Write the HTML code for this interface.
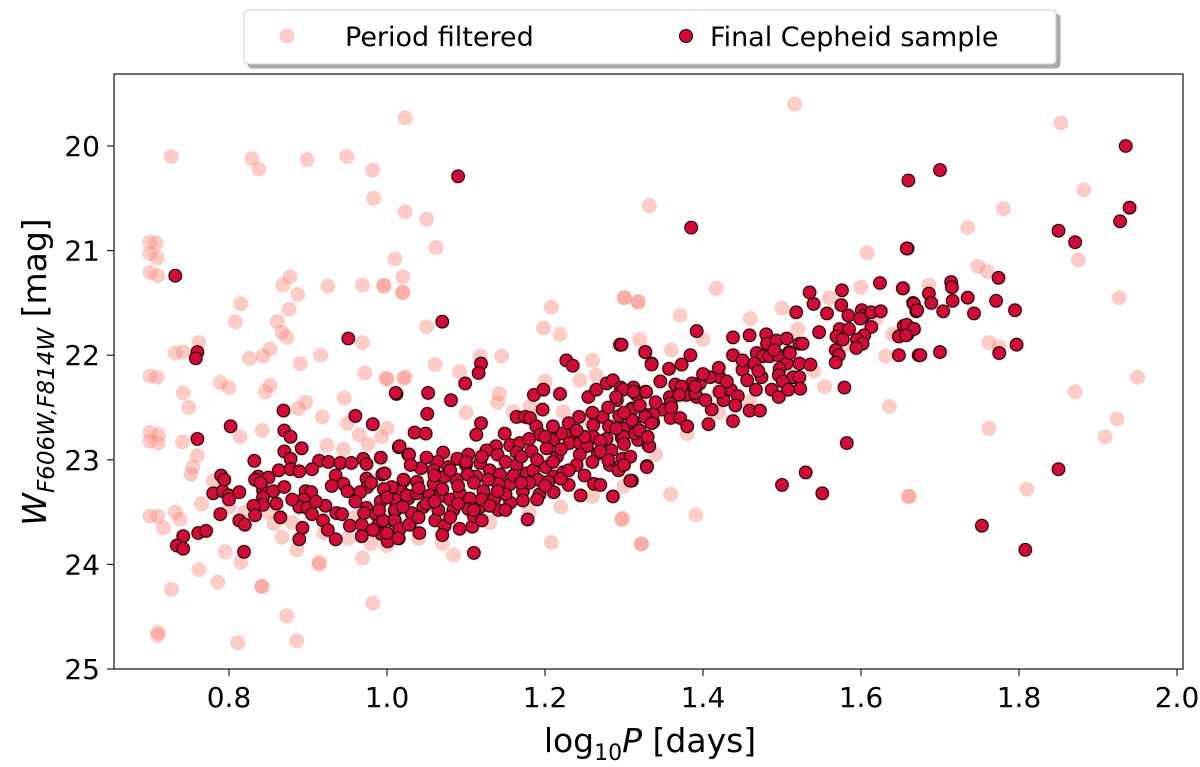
<!DOCTYPE html>
<html><head><meta charset="utf-8"><style>
html,body{margin:0;padding:0;background:#fff;}
svg{display:block;font-family:"DejaVu Sans","Liberation Sans",sans-serif;}
</style></head><body>
<svg id="chart" width="1200" height="767" viewBox="0 0 1200 767">
  <defs><filter id="sh" x="-5%" y="-20%" width="110%" height="150%"><feDropShadow dx="4" dy="4" stdDeviation="0" flood-color="#aaa"/></filter></defs>
  <g id="pts-pink"></g>
  <g id="pts-red"></g>
  <rect x="114" y="74" width="1069" height="595" fill="none" stroke="#222" stroke-width="1.3"/>
  <g id="xticks"></g>
  <g id="yticks"></g>
  <text x="650" y="752" font-size="33" text-anchor="middle">log<tspan font-size="22" dy="8">10</tspan><tspan dy="-8" font-style="italic">P</tspan> [days]</text>
  <text transform="translate(46,372) rotate(-90)" font-size="33" text-anchor="middle"><tspan font-style="italic">W</tspan><tspan font-size="23" dy="8" font-style="italic">F606W,F814W</tspan><tspan dy="-8"> [mag]</tspan></text>
  <g>
    <rect x="244" y="10" width="812" height="54" rx="4" fill="#fff" stroke="#ccc" filter="url(#sh)"/>
    <circle cx="287" cy="36" r="7.5" fill="#fa8072" fill-opacity="0.4"/>
    <text x="345" y="46" font-size="27">Period filtered</text>
    <circle cx="686" cy="36" r="6.5" fill="#d20a37" stroke="#000" stroke-width="1"/>
    <text x="710" y="46" font-size="27">Final Cepheid sample</text>
  </g>
</svg>
<script>
const xTicks = [0.8,1.0,1.2,1.4,1.6,1.8,2.0];
const xTickLabels = ["0.8","1.0","1.2","1.4","1.6","1.8","2.0"];
const yTicks = [20,21,22,23,24,25];
const yTickLabels = ["20","21","22","23","24","25"];
const pinkOnly = [
[0.70,20.92],[0.70,21.03],[0.70,21.21],[0.70,22.2],[0.70,22.74],[0.70,22.82],[0.70,23.54],[0.71,24.65],[0.71,24.68],
[0.727,20.10],[0.829,20.12],[0.838,20.22],[0.899,20.13],[0.949,20.10],[0.982,20.23],[0.983,20.50],[1.023,20.63],
[0.708,20.93],[0.709,21.07],[0.710,21.24],[1.010,21.08],[1.020,21.25],[1.020,21.40],[0.877,21.25],[0.868,21.33],[0.887,21.42],[0.925,21.34],[0.969,21.33],[0.996,21.34],
[0.815,21.51],[0.876,21.56],[0.808,21.68],[0.861,21.68],[0.867,21.78],[0.873,21.83],[0.762,21.88],[0.732,21.98],[0.742,21.97],[0.826,22.03],[0.843,22.01],[0.852,21.94],[0.916,22.00],[0.890,22.08],[0.969,21.88],
[0.709,22.21],[0.789,22.26],[0.800,22.31],[0.852,22.29],[0.846,22.35],[0.972,22.17],[1.000,22.23],[1.021,22.22],
[0.742,22.36],[0.749,22.50],[0.888,22.51],[0.897,22.45],[0.946,22.41],[0.918,22.59],[0.950,22.65],
[0.711,22.76],[0.710,22.84],[0.741,22.83],[0.814,22.78],[0.842,22.72],[0.760,22.96],[0.754,23.07],[0.752,23.14],
[0.924,22.86],[0.945,22.90],[0.965,22.76],[0.976,22.85],[0.993,22.78],[1.000,22.70],
[0.765,23.42],[0.732,23.50],[0.710,23.54],[0.717,23.65],[0.738,23.57],[0.857,23.61],[0.867,23.74],[0.795,23.88],[0.815,23.98],[0.886,23.86],[0.914,23.98],[0.969,23.94],[0.762,24.05],[0.786,24.17],[0.841,24.21],[0.727,24.24],
[0.811,24.75],[0.842,24.21],[0.873,24.49],[0.886,24.73],[0.982,24.37],[0.914,24.0],
[1.208,21.54],[1.198,21.74],[1.219,21.80],[1.300,21.45],[1.318,21.49],[1.061,22.09],[1.145,22.01],[1.142,22.37],[1.297,23.57],[1.208,23.79],[1.322,23.81],[1.084,23.91],[0.996,21.33],[1.020,21.40],[1.050,21.73],[0.999,22.22],[1.023,22.21],[1.092,22.16],[1.118,22.01],[1.223,22.54],[1.244,22.24],[1.265,22.19],[1.160,22.54],[1.181,22.49],
[1.332,20.57],[1.608,21.02],[1.417,21.36],[1.301,21.45],[1.318,21.49],[1.371,21.62],[1.631,22.01],[1.554,22.30],[1.636,22.49],[1.661,23.35],[1.359,23.33],[1.391,23.53],[1.322,23.80],[1.298,23.56],
[1.023,19.73],[1.516,19.60],[1.062,20.97],[1.05,20.70],
[1.853,19.78],[1.882,20.42],[1.78,20.6],[1.735,20.78],[1.875,21.09],[1.748,21.15],[1.76,21.2],[1.686,21.33],[1.927,21.45],[1.762,21.88],[1.775,21.92],[1.95,22.21],[1.871,22.35],[1.924,22.61],[1.909,22.78],[1.762,22.70],[1.81,23.28],[1.66,23.35],
[1.12,22.95],[1.15,23.2],[1.08,23.0],[1.25,22.6],[1.32,22.45],[1.45,22.1],[1.52,21.75],[1.42,22.35],
[0.96,23.55],[0.98,23.80],[1.00,23.82],[1.04,23.75],[1.07,23.80],[0.95,23.75],[0.92,23.7],[0.88,23.6],[0.85,23.5],[0.82,23.5],[0.80,23.45],[0.78,23.2],
[1.13,23.6],[1.18,23.5],[1.22,23.45],[1.26,23.35],[1.30,23.25],[1.34,22.95],[1.38,22.75],[1.42,22.55],[1.46,22.45],[1.50,22.35],[1.54,22.15],[1.58,21.9],[1.62,21.65],[1.64,21.8],
[1.10,22.55],[1.14,22.45],[1.20,22.25],[1.26,22.05],[1.32,21.85],[1.36,21.95],[1.40,21.85],[1.46,21.65],[1.50,21.55],[1.56,21.45],[1.60,21.35]
];
const redPts = [
[0.732,21.24],[0.760,21.97],[0.758,22.03],[0.951,21.84],[1.012,22.37],[0.869,22.53],[0.960,22.58],[0.982,22.66],[0.802,22.68],[0.760,22.80],
[0.870,22.72],[0.878,22.78],[0.892,22.89],[0.870,22.92],[0.878,22.99],[1.015,22.88],[1.027,22.95],
[0.832,23.01],[0.914,23.01],[0.926,23.02],[0.941,23.03],[0.955,23.03],[0.970,22.99],[0.974,23.04],[0.992,22.98],
[0.863,23.10],[0.878,23.09],[0.889,23.11],[0.905,23.09],[0.790,23.15],[0.794,23.19],[0.837,23.16],[0.850,23.17],[0.833,23.19],
[0.935,23.15],[0.945,23.23],[0.974,23.18],[0.994,23.14],[0.975,23.26],[1.021,23.20],
[0.780,23.32],[0.792,23.30],[0.800,23.34],[0.813,23.31],[0.800,23.38],[0.843,23.29],[0.856,23.30],[0.870,23.26],[0.843,23.36],[0.843,23.43],
[0.897,23.30],[0.904,23.31],[0.894,23.38],[0.889,23.45],[0.899,23.46],[0.905,23.52],[0.922,23.44],
[0.966,23.31],[0.997,23.29],[1.010,23.39],[0.992,23.40],[0.974,23.46],[0.971,23.51],[0.986,23.52],[1.010,23.49],[1.018,23.30],[1.027,23.37],
[0.831,23.44],[0.833,23.53],[0.789,23.52],[0.813,23.58],[0.820,23.62],[0.865,23.55],
[0.919,23.58],[0.925,23.67],[0.936,23.51],[0.943,23.52],[0.953,23.63],[0.968,23.62],[0.968,23.73],[0.989,23.62],[0.993,23.71],[1.001,23.78],[1.015,23.75],[1.016,23.66],[1.008,23.58],[1.029,23.62],[0.982,23.67],
[0.893,23.65],[0.889,23.76],[0.935,23.76],[0.742,23.73],[0.734,23.82],[0.742,23.85],[0.761,23.70],[0.771,23.68],[0.819,23.88],
[1.070,21.68],[1.119,22.08],[1.116,22.17],[1.099,22.27],[1.011,22.36],[1.052,22.36],[1.081,22.43],[1.051,22.56],[1.119,22.65],[1.113,22.76],[1.035,22.74],[1.049,22.75],[1.149,22.75],
[1.295,21.90],[1.327,21.97],[1.335,22.08],[1.227,22.05],[1.235,22.10],[1.186,22.38],[1.198,22.33],[1.219,22.37],[1.197,22.52],
[1.255,22.40],[1.265,22.33],[1.278,22.27],[1.286,22.24],[1.296,22.31],[1.312,22.31],[1.316,22.38],[1.327,22.35],[1.291,22.43],[1.310,22.51],[1.294,22.58],[1.327,22.57],[1.337,22.64],
[1.164,22.59],[1.175,22.59],[1.181,22.60],[1.189,22.68],[1.194,22.76],[1.211,22.81],[1.222,22.75],[1.235,22.74],[1.243,22.59],[1.261,22.67],[1.273,22.59],[1.281,22.68],[1.301,22.70],[1.314,22.68],[1.261,22.78],[1.278,22.80],[1.297,22.79],[1.318,22.81],[1.331,22.86],
[1.156,22.86],[1.168,22.84],[1.164,22.93],[1.183,22.92],[1.202,22.89],[1.215,22.97],[1.231,22.84],[1.244,22.84],[1.253,22.87],[1.244,22.95],[1.267,22.94],[1.284,22.91],[1.298,22.99],[1.282,23.05],[1.293,23.10],[1.329,23.06],[1.310,23.20],[1.286,23.35],[1.245,23.34],[1.262,23.23],[1.270,23.24],
[1.138,22.87],[1.126,22.91],[1.103,22.95],[1.071,22.93],[1.100,23.05],[1.089,22.99],[1.064,23.02],[1.028,22.95],[1.016,22.87],[1.043,23.08],[1.059,23.10],[1.078,23.07],
[1.118,23.03],[1.130,23.10],[1.143,23.14],[1.164,23.05],[1.177,23.13],[1.185,23.10],[1.201,23.07],[1.211,23.16],[1.223,23.12],[1.191,23.19],[1.204,23.21],[1.230,23.24],[1.211,23.31],[1.193,23.33],[1.172,23.30],[1.156,23.23],[1.141,23.23],[1.128,23.19],[1.113,23.16],[1.102,23.14],[1.088,23.19],[1.073,23.16],[1.059,23.23],[1.038,23.21],
[1.021,23.19],[1.006,23.26],[0.997,23.13],[0.996,23.28],[1.010,23.38],[1.025,23.34],[1.038,23.32],[1.054,23.34],[1.067,23.35],[1.080,23.38],[1.092,23.32],[1.105,23.37],[1.122,23.30],[1.136,23.37],[1.118,23.45],[1.103,23.47],[1.084,23.48],[1.065,23.48],[1.046,23.45],[1.031,23.51],[1.010,23.48],[0.995,23.58],[1.010,23.58],[1.016,23.66],[1.000,23.70],[1.014,23.75],[1.028,23.62],[1.041,23.70],[1.061,23.58],[1.073,23.63],[1.070,23.72],[1.092,23.66],[1.108,23.64],[1.110,23.54],[1.141,23.48],[1.156,23.41],[1.172,23.39],[1.178,23.57],[1.110,23.89],
[1.385,20.78],[1.659,20.98],[1.624,21.31],[1.653,21.36],[1.535,21.40],[1.576,21.38],[1.540,21.51],[1.575,21.52],[1.518,21.59],[1.557,21.60],[1.584,21.62],[1.601,21.57],[1.604,21.62],[1.613,21.59],[1.625,21.58],[1.599,21.65],[1.666,21.50],[1.670,21.58],[1.654,21.72],[1.648,21.82],[1.659,21.80],[1.667,21.75],[1.648,22.00],[1.673,22.00],
[1.547,21.78],[1.573,21.75],[1.585,21.75],[1.569,21.82],[1.577,21.85],[1.613,21.73],[1.604,21.81],[1.595,21.85],[1.602,21.89],[1.594,21.93],[1.568,21.95],[1.572,22.00],[1.568,22.07],[1.579,22.31],[1.582,22.84],[1.530,23.12],[1.500,23.24],[1.551,23.32],
[1.392,21.77],[1.438,21.83],[1.459,21.81],[1.480,21.80],[1.481,21.89],[1.493,21.86],[1.506,21.84],[1.522,21.89],[1.526,21.89],[1.438,22.00],[1.468,21.98],[1.476,22.01],[1.484,22.01],[1.495,22.00],[1.509,21.97],[1.506,22.08],[1.522,22.08],[1.536,22.09],[1.465,22.08],[1.450,22.14],[1.497,22.13],[1.496,22.19],[1.514,22.21],[1.522,22.21],[1.501,22.25],[1.474,22.21],[1.456,22.24],[1.487,22.33],[1.508,22.33],[1.523,22.32],[1.496,22.40],[1.467,22.33],[1.421,22.21],[1.409,22.21],[1.396,22.27],[1.435,22.33],[1.444,22.39],[1.426,22.43],[1.441,22.48],[1.459,22.53],[1.472,22.53],[1.411,22.52],[1.407,22.66],[1.438,22.63],[1.386,22.27],[1.373,22.09],[1.384,22.00],[1.335,22.09],[1.327,21.97],[1.357,22.13],[1.346,22.25],[1.365,22.28],[1.379,22.38],[1.392,22.40],[1.373,22.30],[1.358,22.40],[1.348,22.52],[1.359,22.46],[1.337,22.56],[1.327,22.59],[1.359,22.60],[1.371,22.60],[1.380,22.68],[1.335,22.65],[1.314,22.75],[1.299,22.78],[1.332,22.87],[1.308,22.97],[1.329,23.07],[1.308,23.20],[1.299,22.33],[1.312,22.35],[1.328,22.35],[1.310,22.52],[1.297,21.90],[1.390,22.36],[1.403,22.43],[1.421,22.35],
[1.09,20.29],
[1.935,20.0],[1.70,20.23],[1.66,20.33],[1.94,20.59],[1.928,20.72],[1.85,20.81],[1.871,20.92],[1.658,20.98],[1.774,21.26],[1.714,21.30],[1.715,21.35],[1.686,21.41],[1.653,21.36],[1.667,21.51],[1.671,21.57],[1.689,21.50],[1.704,21.58],[1.716,21.48],[1.735,21.45],[1.771,21.48],[1.743,21.60],[1.795,21.57],[1.658,21.71],[1.667,21.75],[1.657,21.81],[1.70,21.97],[1.675,22.0],[1.775,21.98],[1.797,21.90],[1.85,23.09],[1.753,23.63],[1.808,23.86]
];
const redExtra = [
[1.04,23.27],[1.05,23.42],[1.07,23.28],[1.09,23.25],[1.11,23.22],[1.12,23.38],[1.13,23.44],[1.15,23.33],[1.16,23.15],[1.18,23.22],[1.19,23.00],[1.21,23.02],[1.22,22.90],[1.24,23.05],[1.25,22.78],[1.27,22.82],[1.28,23.00],[1.30,22.85],[1.31,22.62],[1.32,22.48],
[1.03,23.05],[1.05,22.98],[1.06,23.15],[1.08,23.10],[1.10,23.02],[1.12,22.97],[1.14,22.95],[1.15,23.02],[1.17,22.97],[1.18,22.80],[1.20,22.78],[1.21,22.68],[1.23,22.65],[1.24,22.72],[1.26,22.55],[1.28,22.50],[1.29,22.40],[1.30,22.55],[1.32,22.72],[1.34,22.45],
[1.02,23.45],[1.04,23.55],[1.06,23.40],[1.08,23.55],[1.09,23.42],[1.11,23.48],[1.12,23.58],[1.14,23.30],[1.15,23.48],[1.17,23.22],[1.19,23.38],[1.20,23.25],[1.22,23.18],[1.23,23.10],[1.25,23.15],[1.26,23.02],[1.27,22.92],[1.29,22.70],[1.30,23.05],[1.33,22.78],
[0.99,23.48],[1.00,23.36],[0.98,23.22],[0.96,23.40],[0.95,23.30],[0.93,23.25],[0.91,23.40],[0.88,23.38],[0.86,23.42],[0.84,23.22],[1.36,22.50],[1.37,22.38],[1.39,22.30],[1.40,22.18],[1.42,22.12],[1.43,22.25],[1.45,22.05],[1.47,22.15],[1.49,21.95],[1.51,21.98]
];
const NS = "http://www.w3.org/2000/svg";
const X0 = 387, XS = 790, Y0 = 146, YS = 104.6;
function xScale(p){ return X0 + (p - 1.0) * XS; }
function yScale(w){ return Y0 + (w - 20) * YS; }
const allRed = redPts.concat(redExtra);
const gP = document.getElementById('pts-pink');
const allPink = pinkOnly.concat(allRed);
allPink.forEach(function(d){
  const c = document.createElementNS(NS,'circle');
  c.setAttribute('cx', xScale(d[0]).toFixed(1));
  c.setAttribute('cy', yScale(d[1]).toFixed(1));
  c.setAttribute('r', '7.5');
  c.setAttribute('fill', '#fa8072');
  c.setAttribute('fill-opacity', '0.4');
  
  
  gP.appendChild(c);
});
const gR = document.getElementById('pts-red');
allRed.forEach(function(d){
  const c = document.createElementNS(NS,'circle');
  c.setAttribute('cx', xScale(d[0]).toFixed(1));
  c.setAttribute('cy', yScale(d[1]).toFixed(1));
  c.setAttribute('r', '6.3');
  c.setAttribute('fill', '#d20a37');
  c.setAttribute('stroke', '#000');
  c.setAttribute('stroke-width', '1');
  
  
  gR.appendChild(c);
});
const gx = document.getElementById('xticks');
xTicks.forEach(function(v,i){
  const x = xScale(v);
  const l = document.createElementNS(NS,'line');
  l.setAttribute('x1',x); l.setAttribute('x2',x); l.setAttribute('y1',669); l.setAttribute('y2',676);
  l.setAttribute('stroke','#222'); l.setAttribute('stroke-width','1.2');
  
  
  gx.appendChild(l);
  const t = document.createElementNS(NS,'text');
  t.setAttribute('x',x); t.setAttribute('y',707); t.setAttribute('font-size','28'); t.setAttribute('text-anchor','middle');
  t.textContent = xTickLabels[i];
  
  
  gx.appendChild(t);
});
const gy = document.getElementById('yticks');
yTicks.forEach(function(v,i){
  const y = yScale(v);
  const l = document.createElementNS(NS,'line');
  l.setAttribute('x1',107); l.setAttribute('x2',114); l.setAttribute('y1',y); l.setAttribute('y2',y);
  l.setAttribute('stroke','#222'); l.setAttribute('stroke-width','1.2');
  
  
  gy.appendChild(l);
  const t = document.createElementNS(NS,'text');
  t.setAttribute('x',100); t.setAttribute('y',y+10); t.setAttribute('font-size','28'); t.setAttribute('text-anchor','end');
  t.textContent = yTickLabels[i];
  
  
  gy.appendChild(t);
});
</script>
</body></html>
